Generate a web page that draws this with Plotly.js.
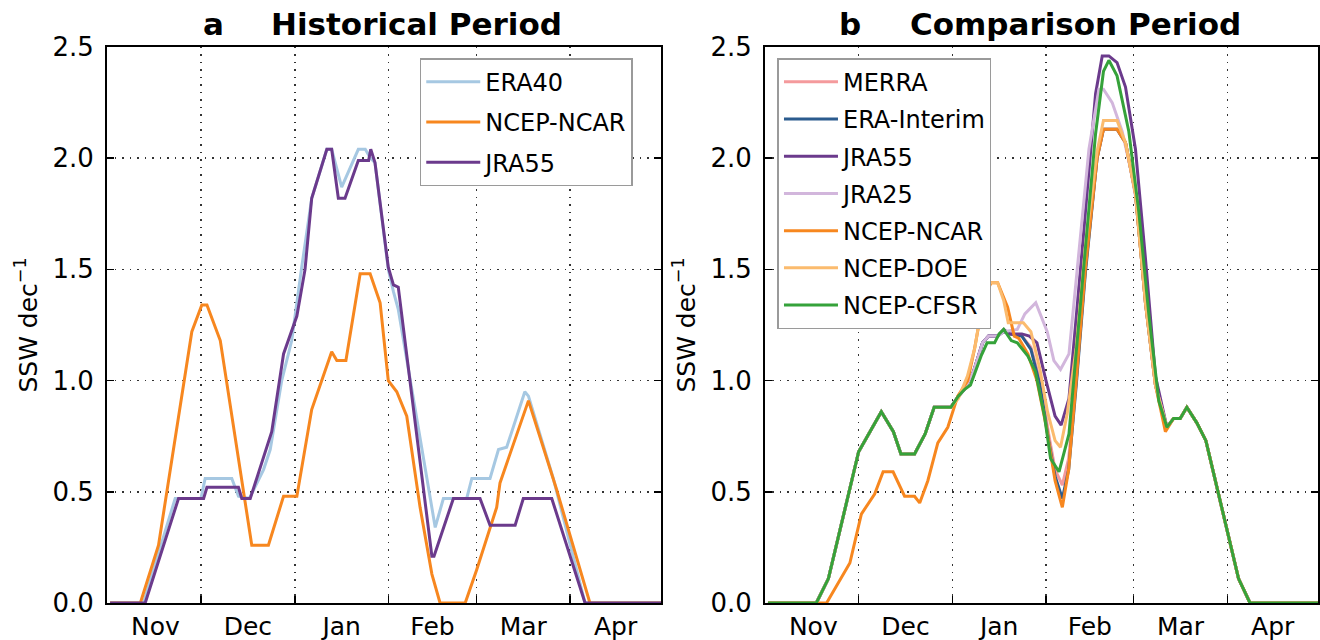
<!DOCTYPE html>
<html>
<head>
<meta charset="utf-8">
<script src="https://cdn.plot.ly/plotly-3.0.1.min.js"></script>
<style>
  html, body { margin: 0; padding: 0; background: #fff; }
  #chart { width: 1320px; height: 640px; }
</style>
</head>
<body>
<div id="chart"></div>
<script>
// x values are days counted from 1 November (season with a 29-day February)

// ---- panel a : historical period ----
var era40Days = [0, 11, 21.5, 30, 31.4, 40.2, 42.4, 46, 50.7, 52.9, 56.7, 60, 63.3, 66.6, 71.6, 73.2, 76.5, 79, 82, 84.3, 86, 87.5, 91.9, 93.6, 95.2, 107.4, 110.1, 117.8, 119.5, 125.5, 128.3, 131, 137, 138.2, 146.4, 156.9, 182];
var era40Vals = [0, 0, 0.47, 0.47, 0.56, 0.56, 0.48, 0.47, 0.60, 0.69, 1.00, 1.18, 1.51, 1.82, 2.04, 2.04, 1.87, 1.95, 2.04, 2.04, 2.00, 1.98, 1.50, 1.40, 1.32, 0.34, 0.47, 0.47, 0.56, 0.56, 0.69, 0.70, 0.95, 0.93, 0.56, 0, 0];

var ncarHistDays = [0, 10, 16, 27, 30.3, 32, 36.4, 46.8, 52.3, 57.3, 61.7, 66.6, 73.2, 74.9, 77.9, 82.6, 85.9, 89.2, 91.9, 94.7, 98, 102.4, 106.3, 109, 117.3, 121.1, 127.7, 128.8, 138.2, 147.5, 158.5, 182];
var ncarHistVals = [0, 0, 0.26, 1.22, 1.34, 1.34, 1.18, 0.26, 0.26, 0.48, 0.48, 0.87, 1.13, 1.09, 1.09, 1.48, 1.48, 1.35, 1.00, 0.95, 0.84, 0.43, 0.13, 0, 0, 0.15, 0.43, 0.54, 0.91, 0.51, 0, 0];

var jra55HistDays = [0, 11.6, 22.6, 30.9, 32, 42.4, 43.5, 46.3, 53.4, 57.3, 61.7, 64.4, 66.6, 71.6, 73.2, 75.4, 77.6, 82, 85.4, 86.1, 87.5, 91.9, 93.6, 95.2, 106.3, 107, 113.4, 122.2, 125.5, 133.8, 136.5, 145.9, 156.9, 182];
var jra55HistVals = [0, 0, 0.47, 0.47, 0.52, 0.52, 0.47, 0.47, 0.77, 1.12, 1.29, 1.50, 1.82, 2.04, 2.04, 1.82, 1.82, 1.99, 1.99, 2.04, 1.98, 1.51, 1.43, 1.42, 0.21, 0.21, 0.47, 0.47, 0.35, 0.35, 0.47, 0.47, 0, 0];

// ---- panel b : comparison period ----
// Nov-Dec part shared by most reanalyses, and the common March-April tail
var cmpEarlyDays = [0, 16, 20, 30, 37.5, 41.5, 44, 48.5, 52, 55, 60.5];
var cmpEarlyVals = [0, 0, 0.11, 0.68, 0.86, 0.77, 0.67, 0.67, 0.76, 0.88, 0.88];
var cmpTailDays = [132, 134.2, 136.4, 138.6, 141.9, 144.9, 149, 151.8, 155.7, 159.5, 182];
var cmpTailVals = [0.79, 0.83, 0.83, 0.88, 0.81, 0.73, 0.49, 0.33, 0.11, 0, 0];

var merraDays = [63, 65, 68, 71, 73, 76, 78, 80, 84, 87, 90, 93, 95, 97.4, 99.5, 102, 105, 108.9, 111, 115.5, 118.3, 121.6, 124.9, 128.2];
var merraVals = [0.93, 0.96, 1.04, 1.17, 1.20, 1.20, 1.22, 1.21, 1.20, 1.15, 1.00, 0.75, 0.60, 0.53, 0.65, 1.00, 1.50, 2.00, 2.13, 2.13, 2.07, 1.84, 1.35, 0.98];

var eraiDays = [63, 65, 68, 71, 73, 76, 78, 80, 84, 87, 90, 93, 95, 97.4, 99.5, 102, 105, 108.9, 111, 115.5, 118.3, 121.6, 124.9, 128.2];
var eraiVals = [0.93, 0.96, 1.04, 1.17, 1.20, 1.20, 1.22, 1.21, 1.20, 1.14, 0.98, 0.72, 0.57, 0.47, 0.60, 0.98, 1.48, 2.00, 2.13, 2.13, 2.07, 1.84, 1.35, 0.98];

var jra55Days = [63, 65, 68, 71, 73, 76, 78, 80, 84, 86.5, 89, 92, 95, 97, 99.6, 103.4, 106.7, 108.4, 110.6, 112.8, 115.5, 118.3, 121.6, 124.9, 128.2];
var jra55Vals = [0.93, 0.96, 1.04, 1.17, 1.20, 1.20, 1.23, 1.21, 1.21, 1.20, 1.17, 1.00, 0.84, 0.80, 0.92, 1.50, 2.00, 2.29, 2.46, 2.46, 2.43, 2.32, 2.04, 1.55, 1.02];

var jra25Days = [63, 65, 68, 71, 73, 76, 78, 82.5, 85, 88.6, 92.4, 94.6, 96.8, 99.6, 103, 106.2, 109.5, 111, 113.9, 117.2, 120, 122, 124.9, 128.2];
var jra25Vals = [0.93, 0.96, 1.04, 1.17, 1.20, 1.20, 1.22, 1.23, 1.30, 1.35, 1.22, 1.09, 1.05, 1.12, 1.60, 2.04, 2.31, 2.31, 2.25, 2.12, 1.95, 1.80, 1.38, 0.98];

var ncarDays = [0, 19.4, 27.1, 30.9, 35.3, 38.1, 41.4, 45.2, 48.5, 50.2, 52.9, 56.2, 59.5, 62.8, 66.1, 68.3, 71.1, 73.8, 76, 79.3, 81.5, 83, 86, 89, 92, 95, 97.4, 99.5, 102, 105, 108.9, 111, 115.5, 118.3, 121.6, 124.9, 128.2, 131.5];
var ncarVals = [0, 0, 0.18, 0.40, 0.49, 0.59, 0.59, 0.48, 0.48, 0.45, 0.55, 0.72, 0.79, 0.93, 1.00, 1.14, 1.35, 1.44, 1.44, 1.33, 1.20, 1.19, 1.12, 1.00, 0.80, 0.55, 0.43, 0.60, 1.00, 1.50, 2.00, 2.13, 2.13, 2.07, 1.84, 1.35, 0.98, 0.77];

var doeDays = [63, 66, 68.5, 71, 73, 76, 78, 79.5, 82, 84.5, 87, 90, 92.5, 95, 96.8, 99, 102, 105, 108.9, 111, 115.5, 118.3, 121.6, 124.9, 128.2];
var doeVals = [0.92, 1.02, 1.15, 1.36, 1.44, 1.44, 1.36, 1.26, 1.26, 1.26, 1.22, 1.05, 0.86, 0.73, 0.70, 0.85, 1.15, 1.60, 2.03, 2.17, 2.17, 2.07, 1.84, 1.35, 0.98];

var cfsrDays = [63, 65, 67, 70.5, 72.5, 75, 76.5, 78, 80.5, 82.5, 86, 88.5, 91.5, 93.5, 96.3, 99.6, 101.2, 104.5, 108.4, 111, 112.8, 115.5, 119.4, 122.7, 126, 129.3];
var cfsrVals = [0.93, 0.96, 0.98, 1.11, 1.17, 1.17, 1.21, 1.23, 1.18, 1.17, 1.11, 1.04, 0.84, 0.65, 0.59, 0.76, 1.00, 1.50, 2.11, 2.39, 2.44, 2.37, 2.12, 1.76, 1.30, 0.91];

// month boundaries (grid) and mid-month label positions, in days from 1 Nov
var monthEdges = [30, 61, 92, 121, 152];
var monthMids = [15, 45.5, 76.5, 106.5, 136.5, 167];
var monthNames = ['Nov', 'Dec', 'Jan', 'Feb', 'Mar', 'Apr'];
var yTicks = [0, 0.5, 1.0, 1.5, 2.0, 2.5];

var FONT = 'DejaVu Sans';
var GRID_DASH = '1.5px,6px';

function line(name, x, y, color, xa, ya, leg) {
  return {
    type: 'scatter', mode: 'lines', name: name, x: x, y: y,
    xaxis: xa, yaxis: ya, legend: leg, legendgroup: leg + name,
    line: {color: color, width: 3},
    hoverinfo: 'skip'
  };
}

var data = [
  line('ERA40', era40Days, era40Vals, '#a6c8e2', 'x', 'y', 'legend'),
  line('NCEP-NCAR', ncarHistDays, ncarHistVals, '#f7871f', 'x', 'y', 'legend'),
  line('JRA55', jra55HistDays, jra55HistVals, '#6b3a8c', 'x', 'y', 'legend'),

  line('MERRA', cmpEarlyDays.concat(merraDays, cmpTailDays), cmpEarlyVals.concat(merraVals, cmpTailVals), '#f49a9c', 'x2', 'y2', 'legend2'),
  line('ERA-Interim', cmpEarlyDays.concat(eraiDays, cmpTailDays), cmpEarlyVals.concat(eraiVals, cmpTailVals), '#2b5b8e', 'x2', 'y2', 'legend2'),
  line('JRA55', cmpEarlyDays.concat(jra55Days, cmpTailDays), cmpEarlyVals.concat(jra55Vals, cmpTailVals), '#6b3a8c', 'x2', 'y2', 'legend2'),
  line('JRA25', cmpEarlyDays.concat(jra25Days, cmpTailDays), cmpEarlyVals.concat(jra25Vals, cmpTailVals), '#d2b6dc', 'x2', 'y2', 'legend2'),
  line('NCEP-NCAR', ncarDays.concat(cmpTailDays.slice(1)), ncarVals.concat(cmpTailVals.slice(1)), '#f7871f', 'x2', 'y2', 'legend2'),
  line('NCEP-DOE', cmpEarlyDays.concat(doeDays, cmpTailDays), cmpEarlyVals.concat(doeVals, cmpTailVals), '#fbbb6e', 'x2', 'y2', 'legend2'),
  line('NCEP-CFSR', cmpEarlyDays.concat(cfsrDays, cmpTailDays), cmpEarlyVals.concat(cfsrVals, cmpTailVals), '#35a23a', 'x2', 'y2', 'legend2')
];

function xAxis(domain, anchor) {
  return {
    domain: domain, anchor: anchor, range: [-1, 182],
    tickvals: monthMids, ticktext: monthNames, ticks: '',
    tickfont: {family: FONT, size: 25, color: '#000'},
    showgrid: false, zeroline: false,
    showline: true, mirror: true, linecolor: '#000', linewidth: 2,
    minor: {
      tickvals: monthEdges, ticks: 'inside', ticklen: 7, tickcolor: '#000', tickwidth: 1.5,
      showgrid: true, griddash: GRID_DASH, gridcolor: '#333', gridwidth: 1.5
    }
  };
}

function yAxis(anchor) {
  return {
    domain: [0.0578, 0.9266], anchor: anchor, range: [0, 2.5],
    tickvals: yTicks, tickformat: '.1f', ticks: 'inside', ticklen: 7,
    tickcolor: '#000', tickwidth: 1.5, ticklabelstandoff: 6,
    tickfont: {family: FONT, size: 26, color: '#000'},
    showgrid: true, griddash: GRID_DASH, gridcolor: '#333', gridwidth: 1.5,
    zeroline: false, showline: true, mirror: 'ticks', linecolor: '#000', linewidth: 2,
    title: {text: 'SSW dec<sup>\u22121</sup>', font: {family: FONT, size: 25, color: '#000'}, standoff: 8}
  };
}

function legendBox(x, gap) {
  return {
    x: x, y: 0.909, xanchor: 'left', yanchor: 'top',
    bgcolor: '#fff', bordercolor: '#9a9a9a', borderwidth: 1.5,
    font: {family: FONT, size: 24, color: '#000'},
    tracegroupgap: gap, itemwidth: 54
  };
}

function titleText(text, x) {
  return {
    text: text, xref: 'paper', yref: 'paper', x: x, y: 0.9625,
    xanchor: 'center', yanchor: 'middle', showarrow: false,
    font: {family: FONT, size: 31, color: '#000', weight: 'bold'}
  };
}

var layout = {
  width: 1320,
  height: 640,
  margin: {t: 0, b: 0, l: 0, r: 0},
  paper_bgcolor: '#fff',
  plot_bgcolor: '#fff',
  showlegend: true,
  xaxis: xAxis([0.0811, 0.5008], 'y'),
  yaxis: yAxis('x'),
  xaxis2: xAxis([0.5795, 0.9985], 'y2'),
  yaxis2: yAxis('x2'),
  legend: legendBox(0.318, 6),
  legend2: legendBox(0.589, 3),
  annotations: [
    titleText('<b>a</b>', 0.1614),
    titleText('<b>Historical Period</b>', 0.3159),
    titleText('<b>b</b>', 0.644),
    titleText('<b>Comparison Period</b>', 0.815)
  ]
};

Plotly.newPlot('chart', data, layout, {staticPlot: true, displayModeBar: false});
</script>
</body>
</html>
